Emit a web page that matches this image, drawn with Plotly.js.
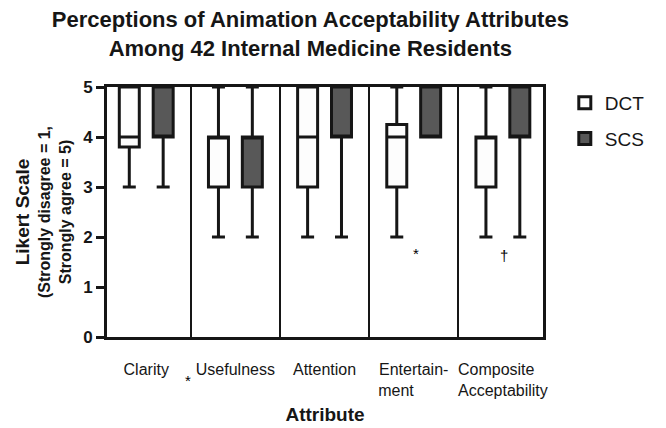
<!DOCTYPE html>
<html>
<head>
<meta charset="utf-8">
<script src="https://cdn.plot.ly/plotly-3.0.1.min.js"></script>
<style>html,body{margin:0;padding:0;background:#fff;}#chart{width:666px;height:428px;}</style>
</head>
<body>
<div id="chart"></div>
<script>
// Categories (attributes) and their axis labels
const categories = ['Clarity', 'Usefulness', 'Attention', 'Entertainment', 'Composite Acceptability'];
const NB = '\u00a0';
const tickLabels = ['Clarity', 'Usefulness', 'Attention',
  'Entertain-<br>ment' + NB.repeat(8),
  'Composite' + NB.repeat(3) + '<br>Acceptability'];

// DCT five-number summaries
const dctLower  = [3, 2, 2, 2, 2];
const dctQ1     = [3.8, 3, 3, 3, 3];
const dctMedian = [4, 4, 4, 4, 4];
const dctQ3     = [5, 4, 5, 4.25, 4];
const dctUpper  = [5, 5, 5, 5, 5];

// SCS five-number summaries
const scsLower  = [3, 2, 2, 4, 2];
const scsQ1     = [4, 3, 4, 4, 4];
const scsMedian = [4, 4, 4, 4, 4];
const scsQ3     = [5, 4, 5, 5, 5];
const scsUpper  = [5, 5, 5, 5, 5];

// Significance markers (x in category index units, y in Likert units)
const markText = ['*', '*', '\u2020'];
const markCat  = [0.47, 3.03, 4.01];
const markY    = [-0.86, 1.68, 1.64];

const lineCol = '#161616';
const yRange = [0, 5];
const boxgap = 0.24, boxgroupgap = 0.41;
const off = 0.25 * (1 - boxgap);
const xr = [-0.44, 4.45];

function boxTrace(name, lo, q1, med, q3, hi, fill, grp) {
  return {
    type: 'box', name: name, legendgroup: grp,
    x: categories, lowerfence: lo, q1: q1, median: med, q3: q3, upperfence: hi,
    fillcolor: fill, line: {color: lineCol, width: 3},
    whiskerwidth: 0.65, boxpoints: false, hoverinfo: 'skip'
  };
}

const data = [
  boxTrace('DCT', dctLower, dctQ1, dctMedian, dctQ3, dctUpper, '#fdfdfd', 'a'),
  boxTrace('SCS', scsLower, scsQ1, scsMedian, scsQ3, scsUpper, '#585858', 'b')
];

const boxTicks = [];
categories.forEach((c, i) => { boxTicks.push(i - off, i + off); });

const annotations = markText.map((t, i) => ({
  x: markCat[i], xref: 'x', xanchor: 'center',
  y: (markY[i] - yRange[0]) / (yRange[1] - yRange[0]), yref: 'paper', yanchor: 'middle',
  text: t, showarrow: false, font: {size: 15, color: '#000'}
}));

const layout = {
  width: 666, height: 428,
  margin: {l: 107, r: 123, t: 87, b: 91},
  paper_bgcolor: '#fff', plot_bgcolor: '#fff',
  font: {family: 'Liberation Sans, Arial, sans-serif', color: lineCol},
  showlegend: true,
  boxmode: 'group', boxgap: boxgap, boxgroupgap: boxgroupgap,
  title: {
    text: 'Perceptions of Animation Acceptability Attributes<br>Among 42 Internal Medicine Residents',
    font: {size: 22, weight: 'bold', color: lineCol},
    x: 0.466, xref: 'container', xanchor: 'center',
    y: 0.936, yref: 'container', yanchor: 'top'
  },
  xaxis: {
    type: 'category', range: xr, categoryorder: 'array', categoryarray: categories,
    tickmode: 'array', tickvals: categories, ticktext: tickLabels, tickangle: 0,
    tickson: 'boundaries', ticks: '', ticklabelstandoff: 16,
    showgrid: true, gridcolor: lineCol, gridwidth: 2,
    showline: true, linecolor: lineCol, linewidth: 3, mirror: true,
    tickfont: {size: 16, color: lineCol},
    title: {text: 'Attribute', font: {size: 19, weight: 'bold', color: lineCol}, standoff: 10},
    fixedrange: true
  },
  xaxis2: {
    overlaying: 'x', anchor: 'y', side: 'bottom', range: xr,
    tickmode: 'array', tickvals: boxTicks, ticks: 'outside', ticklen: 11, tickwidth: 3,
    tickcolor: lineCol, showticklabels: false, showline: false, showgrid: false, zeroline: false
  },
  yaxis: {
    range: yRange, tickmode: 'array', tickvals: [0, 1, 2, 3, 4, 5],
    ticks: 'outside', ticklen: 8, tickwidth: 3, tickcolor: lineCol,
    showline: true, linecolor: lineCol, linewidth: 3, mirror: true,
    showgrid: false, zeroline: false,
    tickfont: {size: 17, weight: 'bold', color: lineCol},
    title: {
      text: '<span style="font-size:19px">Likert Scale</span><br>(Strongly disagree = 1,<br>Strongly agree = 5)',
      font: {size: 16, weight: 'bold', color: lineCol}, standoff: 8
    },
    fixedrange: true
  },
  legend: {
    x: 1.05, xanchor: 'left', y: 1.012, yanchor: 'top',
    font: {size: 19, color: lineCol}, tracegroupgap: 8,
    bgcolor: 'rgba(0,0,0,0)', borderwidth: 0
  },
  annotations: annotations
};

Plotly.newPlot('chart', data, layout, {staticPlot: true, displayModeBar: false});
</script>
</body>
</html>
